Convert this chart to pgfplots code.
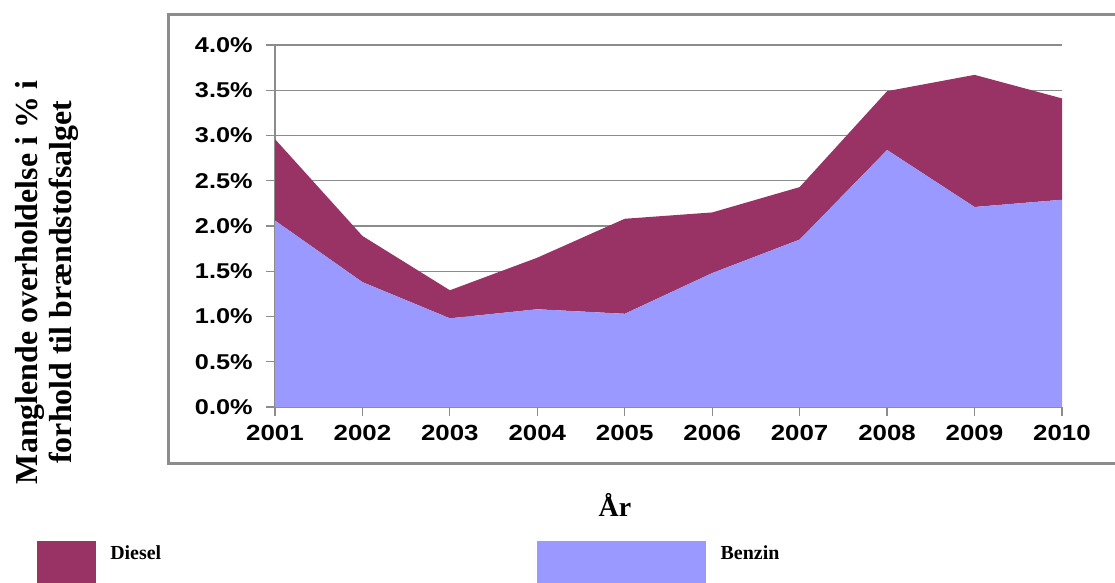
\documentclass[border=0pt]{standalone}
\usepackage{pgfplots}
\pgfplotsset{compat=1.18}
\usepackage{fontspec}
\setmainfont{Liberation Serif}
\newfontfamily\tickfont[FakeStretch=1.18]{Liberation Sans}
\definecolor{diesel}{HTML}{993366}
\definecolor{benzin}{HTML}{9999FF}
\definecolor{gridgray}{HTML}{8C8C8C}
\begin{document}
\begin{tikzpicture}
\useasboundingbox (0,0) rectangle (1115bp,-583bp);
\begin{axis}[
  scale only axis,
  width=787bp, height=362bp,
  at={(275bp,-407bp)}, anchor=south west,
  xmin=2001, xmax=2010, ymin=0, ymax=4,
  stack plots=y,
  axis x line*=bottom, axis y line*=left,
  axis line style={gridgray, line width=1.2bp, -},
  xtick={2001,...,2010},
  ytick={0,0.5,...,4},
  tick align=outside,
  major tick length=9bp,
  tick style={gridgray, line width=1.2bp},
  ymajorgrids,
  grid style={gridgray, line width=1.2bp},
  /pgf/number format/assume math mode=true,
  xticklabel style={/pgf/number format/1000 sep=, font=\tickfont\bfseries\fontsize{22}{22}\selectfont, yshift=-6bp},
  yticklabel={\pgfmathprintnumber[fixed,fixed zerofill,precision=1]{\tick}\%},
  yticklabel style={font=\tickfont\bfseries\fontsize{21.5}{21.5}\selectfont, xshift=-10bp},
  xlabel={År},
  xlabel style={font=\bfseries\fontsize{28}{28}\selectfont, at={(axis description cs:0.432,-0.271)}, anchor=center},
  ylabel={Manglende overholdelse i \% i\\forhold til brændstofsalget},
  ylabel style={font=\bfseries\fontsize{32}{35}\selectfont, align=center, at={(axis description cs:-0.2897,0.345)}, anchor=center},
  legend columns=2,
  legend style={at={(axis description cs:-0.302,-0.370)}, anchor=north west, draw=none, fill=none,
    font=\bfseries\fontsize{20}{20}\selectfont, inner sep=0pt, outer sep=0pt},
]
\addplot[fill=benzin, draw=none, forget plot] coordinates {
  (2001,2.06) (2002,1.38) (2003,0.98) (2004,1.08) (2005,1.03)
  (2006,1.48) (2007,1.85) (2008,2.84) (2009,2.21) (2010,2.29)
} \closedcycle;
\addplot[fill=diesel, draw=none,
  legend image code/.code={\fill[diesel] (0bp,-30bp) rectangle (59bp,12bp);}] coordinates {
  (2001,0.90) (2002,0.51) (2003,0.31) (2004,0.57) (2005,1.05)
  (2006,0.67) (2007,0.58) (2008,0.65) (2009,1.46) (2010,1.12)
} \closedcycle;
\addlegendentry{\makebox[437bp][l]{\hspace*{12bp}Diesel}}
\addlegendimage{legend image code/.code={\fill[benzin] (0bp,-30bp) rectangle (168bp,12bp);}}
\addlegendentry{\hspace*{13bp}Benzin}
\end{axis}
\draw[gridgray, line width=3bp] (1130bp,-14bp) -- (168bp,-14bp) -- (168bp,-463bp) -- (1130bp,-463bp);
\end{tikzpicture}
\end{document}
